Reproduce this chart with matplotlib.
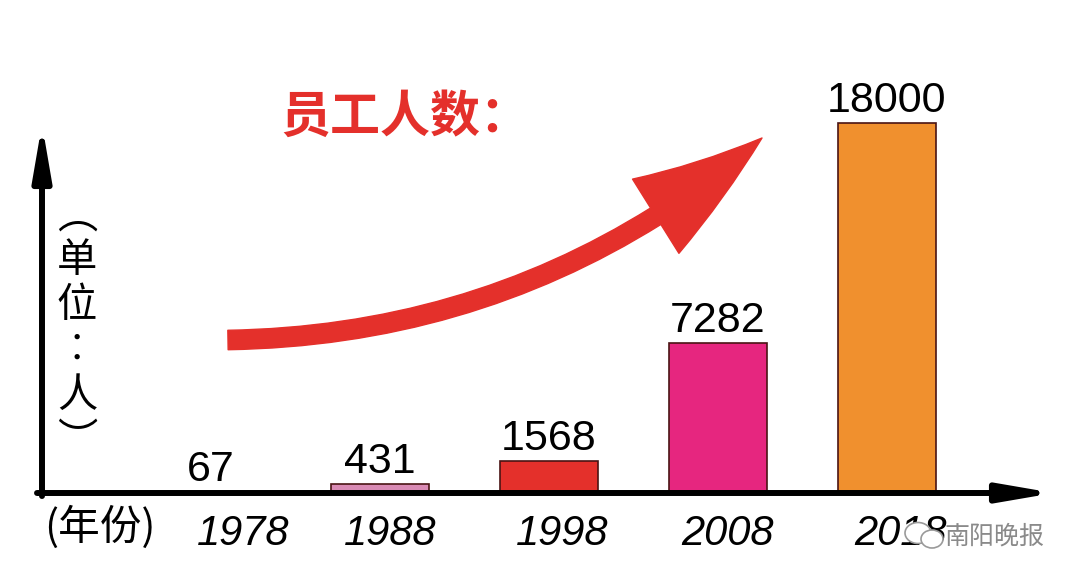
import matplotlib
matplotlib.use('Agg')
import matplotlib.pyplot as plt
from matplotlib.patches import Ellipse
from matplotlib.text import Annotation

# ---- data ----
years = ['1978', '1988', '1998', '2008', '2018']
staff = [67, 431, 1568, 7282, 18000]
bar_colors = ['#c9a0b4', '#d98ab4', '#e4302b', '#e6267f', '#f0902e']
title_text = '员工人数：'
y_unit = ['︵', '单', '位', '︰', '人', '︶']
x_unit = '(年份)'
watermark = '南阳晚报'

# layout: horizontal nudge of the year labels (pixels)
year_nudge_px = [32, 10, 13, 10, 14]

CJK = ['Noto Sans CJK SC', 'DejaVu Sans']
W, H = 1080, 584
fig = plt.figure(figsize=(W / 100, H / 100), dpi=100)
fig.patch.set_facecolor('white')

ax = fig.add_axes([42 / W, (H - 493) / H, (1040 - 42) / W, 432 / H])
xs = list(range(len(years)))
ax.bar(xs, staff, width=0.585, color=bar_colors, edgecolor='#4a1414',
       linewidth=1.2, zorder=2)
ax.set_xlim(-1, 998 / 169 - 1)
ax.set_ylim(0, 18000 * 432 / 370)
for s in ax.spines.values():
    s.set_visible(False)
ax.set_yticks([])
ax.set_xticks([])

px2pt = 72 / 100
for xi, yr, nd in zip(xs, years, year_nudge_px):
    ax.annotate(yr, (xi, 0), xytext=(nd * px2pt, -52 * px2pt),
                textcoords='offset points', ha='center', va='baseline',
                fontsize=30, style='italic', family='Liberation Sans',
                annotation_clip=False)

for xi, v in zip(xs, staff):
    ax.annotate(f'{v}', (xi, v), xytext=(0, 8), textcoords='offset points',
                ha='center', va='baseline', fontsize=31,
                family='Liberation Sans', zorder=4)

# axis arrows
ap = dict(arrowstyle='-|>,head_length=3.2,head_width=0.55', mutation_scale=10,
          lw=4.3, color='black', shrinkA=0, shrinkB=0)
ax.annotate('', xy=(1 + 14 / 998, 0), xytext=(-0.005, 0), xycoords='axes fraction',
            arrowprops=ap, annotation_clip=False, zorder=5)
ax.annotate('', xy=(0, (493 - 137 + 13) / 432), xytext=(0, -0.007),
            xycoords='axes fraction', arrowprops=ap,
            annotation_clip=False, zorder=5)

# big red curved arrow
fig.add_artist(Annotation(
    '', xy=(762, H - 138), xytext=(228, H - 340), xycoords='figure pixels',
    arrowprops=dict(arrowstyle='simple,head_length=9.5,head_width=6.3,tail_width=1.4',
                    connectionstyle='arc3,rad=0.18', color='#e4302b',
                    shrinkA=0, shrinkB=0)))

# texts
fig.text(280 / W, 1 - 117 / H, title_text, ha='left', va='center', fontsize=36,
         color='#e4302b', weight='bold', family=CJK)
fig.text(77 / W, 1 - 328 / H, '\n'.join(y_unit), ha='center', va='center',
         fontsize=29, linespacing=1.12, family=CJK)
fig.text(100 / W, 1 - 527 / H, x_unit, ha='center', va='center', fontsize=30,
         family=CJK)
fig.text(995 / W, 1 - 537 / H, watermark, ha='center', va='center', fontsize=18,
         color='#8a8a8a', family=CJK)

# small chat-bubble icon next to watermark
for cx, cy, w, h in [(9.18, 0.51, 0.26, 0.21), (9.32, 0.45, 0.22, 0.18)]:
    fig.add_artist(Ellipse((cx, cy), w, h, transform=fig.dpi_scale_trans,
                           facecolor='white', edgecolor='#9a9a9a', lw=1.2))

fig.savefig('out.png', dpi=100)
